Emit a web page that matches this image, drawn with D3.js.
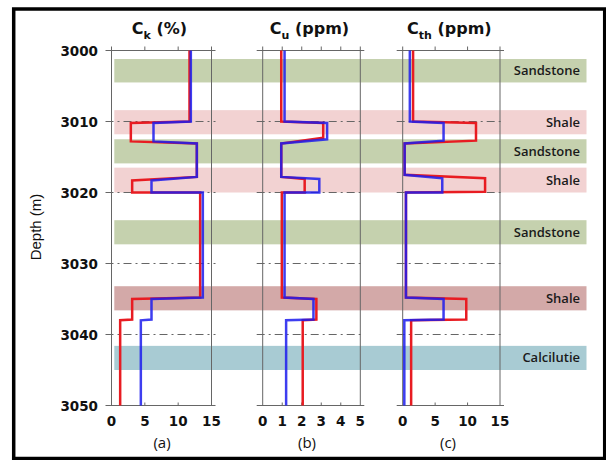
<html>
<head>
	<title>logs</title>
	<script src="https://cdnjs.cloudflare.com/ajax/libs/d3/7.8.5/d3.min.js"></script>
	<style>
		body { margin: 0; background: white; }
	</style>
</head>
<body>
<div id="chart"></div>

<script>

	//depth ticks along the left axis
	var depthTicks = [3000, 3010, 3020, 3030, 3040, 3050];

	//rock layers: name, top depth, bottom depth
	var layerNames = ['Sandstone', 'Shale', 'Sandstone', 'Shale', 'Sandstone', 'Shale', 'Calcilutie'];
	var layerTop = [3001.2, 3008.4, 3012.5, 3016.5, 3023.9, 3033.2, 3041.6];
	var layerBottom = [3004.5, 3011.8, 3015.9, 3020.0, 3027.3, 3036.6, 3045.0];
	var layerKind = ['sand', 'shale', 'sand', 'shale', 'sand', 'shale2', 'calc'];

	//tick labels for each panel
	var kTicks = [0, 5, 10, 15];
	var uTicks = [0, 1, 2, 3, 4, 5];
	var thTicks = [0, 5, 10, 15];

	//profiles as [depth, value]
	var kRed = [[3000,11.7],[3010,11.7],[3010.2,2.9],[3012.8,2.9],[3013.1,12.8],[3017.8,12.8],[3018.3,3.1],[3020,3.1],[3020,13.3],[3034.8,13.3],[3035,3.1],[3037.9,3.1],[3038,1.3],[3050,1.3]];
	var kBlue = [[3000,11.9],[3010,11.9],[3010.2,6.3],[3012.8,6.3],[3013.1,12.8],[3017.8,12.8],[3018.3,6.0],[3020,6.0],[3020,13.7],[3034.8,13.7],[3035,6.0],[3037.9,6.0],[3038,4.4],[3050,4.4]];

	var uRed = [[3000,0.95],[3010,0.95],[3010.2,3.1],[3012.3,3.1],[3013.1,0.95],[3017.8,0.95],[3018.1,2.15],[3020,2.15],[3020,0.98],[3034.8,0.98],[3035,2.75],[3037.9,2.75],[3038,2.05],[3050,2.05]];
	var uBlue = [[3000,1.12],[3010,1.12],[3010.2,3.3],[3012.5,3.3],[3013.1,0.95],[3017.8,0.95],[3018.1,2.9],[3020,2.9],[3020,1.12],[3034.8,1.12],[3035,2.6],[3037.9,2.6],[3038,1.2],[3050,1.2]];

	var thRed = [[3000,1.6],[3010,1.6],[3010.2,11.3],[3012.7,11.3],[3013.1,0.3],[3017.5,0.3],[3018,12.7],[3019.9,12.7],[3020,0.5],[3034.8,0.5],[3035,9.8],[3037.9,9.8],[3038,1.3],[3050,1.3]];
	var thBlue = [[3000,1.1],[3010,1.1],[3010.2,6.3],[3012.7,6.3],[3013.1,0.3],[3017.5,0.3],[3018,6.1],[3020,6.1],[3020,0.5],[3034.8,0.5],[3035,6.3],[3037.9,6.3],[3038,0.25],[3050,0.25]];

	//display variables
	var width = 606;
	var height = 460;

	var layerColor = { sand: '#c5d1ae', shale: '#f2d2d2', shale2: '#d3a9a8', calc: '#a8cbd3' };

	var svg = d3.select('#chart')
		.append('svg')
		.attr('width', width)
		.attr('height', height);

	svg.append('rect').attr('x', 0).attr('y', 0).attr('width', width).attr('height', height).attr('fill', 'white');

	var y = d3.scaleLinear().domain([3000, 3050]).range([50.5, 405.5]);

	var panels = [
		{ sym: 'C', sub: 'k', unit: ' (%)', ticks: kTicks, range: [111.5, 211.5], red: kRed, blue: kBlue, tag: '(a)', tagX: 162 },
		{ sym: 'C', sub: 'u', unit: ' (ppm)', ticks: uTicks, range: [262.7, 360.3], red: uRed, blue: uBlue, tag: '(b)', tagX: 307 },
		{ sym: 'C', sub: 'th', unit: ' (ppm)', ticks: thTicks, range: [402.7, 500], red: thRed, blue: thBlue, tag: '(c)', tagX: 448 }
	];

	//layer bands across the whole plot
	var bandLeft = 114.3, bandRight = 586.5;
	svg.selectAll('.band')
		.data(layerNames)
		.enter()
		.append('rect')
		.attr('x', bandLeft)
		.attr('width', bandRight - bandLeft)
		.attr('y', function(d, i){ return y(layerTop[i]); })
		.attr('height', function(d, i){ return y(layerBottom[i]) - y(layerTop[i]); })
		.attr('fill', function(d, i){ return layerColor[layerKind[i]]; });

	svg.selectAll('.bandLabel')
		.data(layerNames)
		.enter()
		.append('text')
		.attr('x', 580)
		.attr('y', function(d, i){ return (y(layerTop[i]) + y(layerBottom[i])) / 2 + 4.5; })
		.attr('text-anchor', 'end')
		.attr('font-family', 'Open Sans')
		.attr('font-weight', 600)
		.attr('font-size', 13)
		.attr('fill', '#1a1a1a')
		.text(function(d){ return d; });

	var line = d3.line();

	panels.forEach(function(p){
		var x = d3.scaleLinear().domain([p.ticks[0], p.ticks[p.ticks.length - 1]]).range(p.range);
		var g = svg.append('g');
		var x0 = p.range[0] - 6, x1 = p.range[1] + 4;

		//horizontal lines at each depth tick
		g.selectAll('.grid')
			.data(depthTicks)
			.enter()
			.append('line')
			.attr('x1', x0).attr('x2', x1)
			.attr('y1', function(d){ return y(d); })
			.attr('y2', function(d){ return y(d); })
			.attr('stroke', '#666')
			.attr('stroke-width', 1)
			.attr('stroke-dasharray', function(d, i){ return (i == 0 || i == depthTicks.length - 1) ? null : '8,4,2,4'; });

		//panel side lines
		g.selectAll('.side')
			.data([p.ticks[0], p.ticks[p.ticks.length - 1]])
			.enter()
			.append('line')
			.attr('x1', function(d){ return x(d); })
			.attr('x2', function(d){ return x(d); })
			.attr('y1', y(3000) - 4).attr('y2', y(3050))
			.attr('stroke', '#666')
			.attr('stroke-width', 1);

		//small ticks top and bottom
		var inner = p.ticks.slice(1, -1);
		g.selectAll('.ttick')
			.data(inner)
			.enter()
			.append('line')
			.attr('x1', function(d){ return x(d); })
			.attr('x2', function(d){ return x(d); })
			.attr('y1', y(3000) - 4).attr('y2', y(3000))
			.attr('stroke', '#666');
		g.selectAll('.btick')
			.data(inner)
			.enter()
			.append('line')
			.attr('x1', function(d){ return x(d); })
			.attr('x2', function(d){ return x(d); })
			.attr('y1', y(3050) - 3).attr('y2', y(3050))
			.attr('stroke', '#666');

		//profiles
		[['red', '#e81c22', 1], ['blue', '#1c1ced', 0.85]].forEach(function(s){
			g.append('path')
				.attr('d', line.x(function(d){ return x(d[1]); }).y(function(d){ return y(d[0]); })(p[s[0]]))
				.attr('fill', 'none')
				.attr('stroke', s[1])
				.attr('stroke-opacity', s[2])
				.attr('stroke-width', 2.5);
		});

		//x tick labels
		g.selectAll('.xlab')
			.data(p.ticks)
			.enter()
			.append('text')
			.attr('x', function(d){ return x(d); })
			.attr('y', 426)
			.attr('text-anchor', 'middle')
			.attr('font-family', 'DejaVu Sans')
			.attr('font-weight', 'bold')
			.attr('font-size', 13.5)
			.attr('fill', '#111')
			.text(function(d){ return d; });

		//title
		var t = svg.append('text')
			.attr('x', (p.range[0] + p.range[1]) / 2 - 2)
			.attr('y', 34)
			.attr('text-anchor', 'middle')
			.attr('font-family', 'DejaVu Sans')
			.attr('font-weight', 'bold')
			.attr('font-size', 16)
			.attr('fill', '#111');
		t.append('tspan').text(p.sym);
		t.append('tspan').attr('font-size', 11).attr('dy', 5).text(p.sub);
		t.append('tspan').attr('dy', -5).text(p.unit);

		//panel tag
		svg.append('text')
			.attr('x', p.tagX)
			.attr('y', 448)
			.attr('text-anchor', 'middle')
			.attr('font-family', 'Open Sans')
			.attr('font-size', 15)
			.attr('fill', '#111')
			.text(p.tag);
	});

	//depth labels
	svg.selectAll('.ylab')
		.data(depthTicks)
		.enter()
		.append('text')
		.attr('x', 98)
		.attr('y', function(d){ return y(d) + 5; })
		.attr('text-anchor', 'end')
		.attr('font-family', 'DejaVu Sans')
		.attr('font-weight', 'bold')
		.attr('font-size', 13.5)
		.attr('fill', '#111')
		.text(function(d){ return d; });

	svg.append('text')
		.attr('transform', 'translate(41,227) rotate(-90)')
		.attr('text-anchor', 'middle')
		.attr('font-family', 'Liberation Sans')
		.attr('font-size', 15)
		.attr('fill', '#111')
		.text('Depth (m)');

	//outer frame
	svg.append('rect')
		.attr('x', 13.7).attr('y', 9)
		.attr('width', 591).attr('height', 449.5)
		.attr('fill', 'none')
		.attr('stroke', 'black')
		.attr('stroke-width', 3.5);

</script>
</body>
</html>
